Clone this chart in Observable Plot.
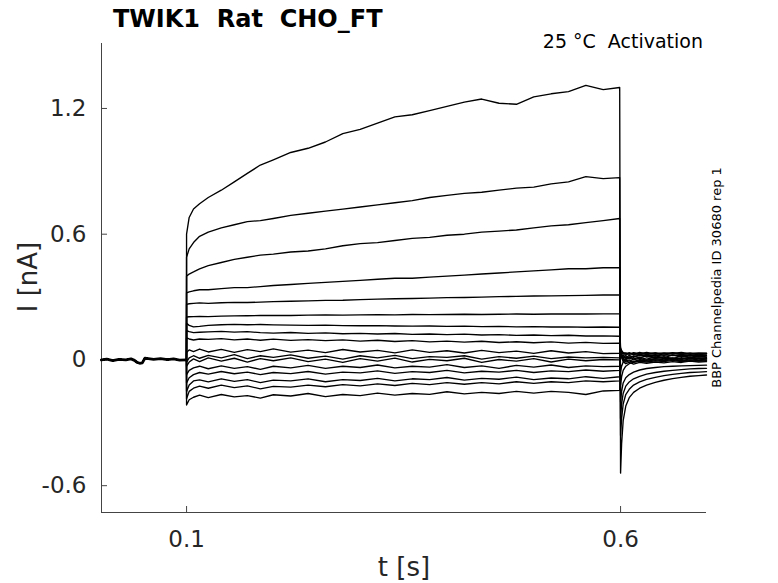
<!DOCTYPE html>
<html>
<head>
<meta charset="utf-8">
<script src="https://cdn.jsdelivr.net/npm/d3@7"></script>
<script src="https://cdn.jsdelivr.net/npm/@observablehq/plot@0.6"></script>
<style>
  html, body { margin: 0; padding: 0; background: #fff; }
  #chart { width: 778px; height: 583px; }
</style>
</head>
<body>
<div id="chart"></div>
<script>
// ---- data ----
const xTicks = [0.1, 0.6];
const yTicks = [-0.6, 0, 0.6, 1.2];

// shared pre-pulse holding segment
const preT = [0.002, 0.008, 0.015, 0.022, 0.03, 0.036, 0.04, 0.043, 0.046, 0.049, 0.052, 0.056, 0.062, 0.07, 0.078, 0.085, 0.092, 0.0999];
const preI = [0.0, 0.004, -0.003, 0.003, 0.0, 0.005, -0.002, -0.012, -0.016, -0.014, 0.008, 0.006, 0.003, 0.006, 0.002, 0.005, -0.001, 0.0];

// test pulse time grid
const pulseT = [0.1, 0.103, 0.108, 0.115, 0.125, 0.14, 0.155, 0.17, 0.185, 0.2, 0.22, 0.24, 0.26, 0.28, 0.3, 0.32, 0.34, 0.36, 0.38, 0.4, 0.42, 0.44, 0.46, 0.48, 0.5, 0.52, 0.54, 0.56, 0.58, 0.599];
// tail time grid
const tailT = [0.6, 0.6012, 0.603, 0.606, 0.61, 0.615, 0.622, 0.63, 0.64, 0.65, 0.66, 0.67, 0.68, 0.69, 0.699];

const pulse1 = [0.60, 0.68, 0.72, 0.745, 0.775, 0.81, 0.85, 0.89, 0.93, 0.955, 0.99, 1.01, 1.04, 1.08, 1.10, 1.13, 1.16, 1.17, 1.19, 1.21, 1.23, 1.245, 1.225, 1.22, 1.255, 1.27, 1.28, 1.31, 1.29, 1.30];
const tail1  = [-0.54, -0.40, -0.29, -0.22, -0.18, -0.155, -0.135, -0.12, -0.107, -0.097, -0.089, -0.083, -0.078, -0.075, -0.072];
const pulse2 = [0.49, 0.53, 0.56, 0.59, 0.61, 0.63, 0.645, 0.66, 0.665, 0.675, 0.69, 0.7, 0.71, 0.72, 0.73, 0.74, 0.75, 0.76, 0.775, 0.785, 0.795, 0.80, 0.81, 0.82, 0.825, 0.84, 0.85, 0.875, 0.865, 0.87];
const tail2  = [-0.36, -0.28, -0.21, -0.165, -0.14, -0.12, -0.105, -0.093, -0.083, -0.075, -0.069, -0.064, -0.06, -0.058, -0.056];
const pulse3 = [0.40, 0.41, 0.42, 0.435, 0.45, 0.465, 0.48, 0.49, 0.50, 0.505, 0.515, 0.52, 0.53, 0.545, 0.555, 0.56, 0.57, 0.58, 0.585, 0.595, 0.60, 0.61, 0.615, 0.62, 0.63, 0.64, 0.645, 0.655, 0.665, 0.675];
const tail3  = [-0.28, -0.21, -0.16, -0.125, -0.105, -0.09, -0.078, -0.068, -0.06, -0.054, -0.05, -0.046, -0.043, -0.041, -0.04];
const pulse4 = [0.32, 0.325, 0.33, 0.335, 0.335, 0.34, 0.345, 0.345, 0.35, 0.355, 0.36, 0.365, 0.37, 0.375, 0.38, 0.385, 0.39, 0.39, 0.395, 0.40, 0.405, 0.41, 0.415, 0.42, 0.425, 0.43, 0.435, 0.435, 0.44, 0.44];
const tail4  = [-0.20, -0.15, -0.11, -0.085, -0.07, -0.058, -0.048, -0.041, -0.036, -0.032, -0.03, -0.028, -0.027, -0.026, -0.025];
const pulse5 = [0.265, 0.268, 0.27, 0.272, 0.27, 0.273, 0.275, 0.274, 0.276, 0.278, 0.28, 0.282, 0.284, 0.285, 0.288, 0.29, 0.292, 0.293, 0.295, 0.297, 0.298, 0.30, 0.302, 0.303, 0.305, 0.306, 0.307, 0.308, 0.31, 0.31];
const tail5  = [-0.12, -0.08, -0.05, -0.03, -0.018, -0.01, -0.004, 0.0, 0.004, 0.005, 0.007, 0.006, 0.008, 0.007, 0.008];
const pulse6 = [0.205, 0.206, 0.207, 0.208, 0.207, 0.209, 0.21, 0.211, 0.212, 0.213, 0.212, 0.214, 0.215, 0.214, 0.215, 0.216, 0.215, 0.217, 0.216, 0.217, 0.218, 0.217, 0.218, 0.219, 0.218, 0.219, 0.22, 0.219, 0.22, 0.22];
const tail6  = [-0.06, -0.03, -0.01, 0.005, 0.012, 0.018, 0.02, 0.022, 0.02, 0.024, 0.021, 0.023, 0.02, 0.022, 0.021];
const pulse7 = [0.175, 0.165, 0.158, 0.16, 0.165, 0.168, 0.17, 0.168, 0.169, 0.167, 0.166, 0.165, 0.166, 0.164, 0.163, 0.164, 0.162, 0.161, 0.162, 0.16, 0.161, 0.159, 0.16, 0.158, 0.159, 0.157, 0.158, 0.156, 0.157, 0.156];
const tail7  = [0.06, 0.045, 0.035, 0.03, 0.028, 0.03, 0.026, 0.03, 0.027, 0.031, 0.028, 0.03, 0.027, 0.029, 0.028];
const pulse8 = [0.14, 0.135, 0.13, 0.132, 0.134, 0.136, 0.133, 0.135, 0.13, 0.128, 0.131, 0.127, 0.129, 0.125, 0.127, 0.124, 0.126, 0.122, 0.124, 0.121, 0.123, 0.119, 0.121, 0.117, 0.119, 0.116, 0.118, 0.114, 0.115, 0.113];
const tail8  = [0.05, 0.04, 0.032, 0.03, 0.033, 0.028, 0.032, 0.029, 0.034, 0.03, 0.033, 0.029, 0.032, 0.03, 0.031];
const pulse9 = [0.105, 0.1, 0.095, 0.1, 0.098, 0.102, 0.096, 0.1, 0.094, 0.099, 0.093, 0.097, 0.092, 0.096, 0.09, 0.094, 0.088, 0.092, 0.086, 0.09, 0.085, 0.089, 0.083, 0.087, 0.082, 0.086, 0.08, 0.084, 0.079, 0.08];
const tail9  = [0.045, 0.038, 0.03, 0.034, 0.028, 0.035, 0.03, 0.036, 0.029, 0.034, 0.031, 0.036, 0.03, 0.034, 0.032];
const pulse10 = [0.035, 0.048, 0.04, 0.052, 0.038, 0.05, 0.036, 0.049, 0.04, 0.053, 0.037, 0.047, 0.035, 0.05, 0.038, 0.046, 0.034, 0.048, 0.036, 0.044, 0.033, 0.046, 0.035, 0.042, 0.031, 0.044, 0.033, 0.04, 0.03, 0.032];
const tail10  = [0.04, 0.025, 0.035, 0.022, 0.034, 0.024, 0.036, 0.026, 0.033, 0.022, 0.035, 0.025, 0.032, 0.024, 0.03];
const pulse11 = [-0.01, 0.01, 0.02, 0.008, 0.022, 0.01, 0.025, 0.006, 0.02, 0.012, 0.024, 0.008, 0.018, 0.004, 0.02, 0.01, 0.022, 0.006, 0.016, 0.012, 0.02, 0.004, 0.016, 0.008, 0.018, 0.006, 0.014, 0.01, 0.012, 0.01];
const tail11  = [0.03, 0.015, 0.025, 0.01, 0.022, 0.012, 0.026, 0.014, 0.02, 0.01, 0.024, 0.012, 0.02, 0.014, 0.018];
const pulse12 = [-0.03, -0.01, 0.005, -0.008, 0.01, -0.006, 0.008, -0.01, 0.006, -0.004, 0.01, -0.008, 0.004, -0.012, 0.006, -0.006, 0.009, -0.01, 0.003, -0.004, 0.008, -0.012, 0.002, -0.006, 0.006, -0.01, 0.004, -0.004, 0.002, 0.0];
const tail12  = [0.035, 0.02, 0.012, 0.02, 0.008, 0.018, 0.01, 0.02, 0.008, 0.016, 0.006, 0.018, 0.01, 0.015, 0.012];
const pulse13 = [-0.07, -0.05, -0.038, -0.03, -0.042, -0.028, -0.04, -0.032, -0.045, -0.03, -0.038, -0.026, -0.04, -0.03, -0.036, -0.024, -0.038, -0.03, -0.034, -0.022, -0.036, -0.028, -0.04, -0.026, -0.034, -0.024, -0.036, -0.028, -0.032, -0.03];
const tail13  = [0.04, 0.025, 0.015, 0.008, 0.015, 0.005, 0.012, 0.004, 0.014, 0.006, 0.01, 0.002, 0.012, 0.005, 0.008];
const pulse14 = [-0.11, -0.085, -0.07, -0.06, -0.068, -0.055, -0.066, -0.058, -0.07, -0.06, -0.065, -0.055, -0.068, -0.058, -0.062, -0.052, -0.064, -0.056, -0.06, -0.05, -0.062, -0.054, -0.058, -0.05, -0.06, -0.052, -0.056, -0.048, -0.054, -0.05];
const tail14  = [0.045, 0.02, 0.008, 0.002, 0.01, 0.0, 0.008, -0.002, 0.006, 0.0, 0.007, -0.003, 0.005, 0.0, 0.004];
const pulse15 = [-0.15, -0.12, -0.1, -0.095, -0.105, -0.09, -0.102, -0.094, -0.108, -0.096, -0.1, -0.09, -0.104, -0.094, -0.098, -0.088, -0.1, -0.09, -0.094, -0.084, -0.096, -0.088, -0.092, -0.082, -0.094, -0.086, -0.09, -0.08, -0.088, -0.08];
const tail15  = [0.05, 0.02, 0.005, -0.005, 0.0, -0.008, 0.002, -0.006, 0.0, -0.004, 0.002, -0.006, 0.0, -0.003, 0.0];
const pulse16 = [-0.185, -0.15, -0.135, -0.125, -0.135, -0.12, -0.132, -0.124, -0.138, -0.126, -0.13, -0.12, -0.128, -0.118, -0.124, -0.114, -0.122, -0.112, -0.118, -0.108, -0.116, -0.108, -0.114, -0.104, -0.112, -0.104, -0.108, -0.1, -0.104, -0.1];
const tail16  = [0.05, 0.015, 0.0, -0.01, -0.004, -0.012, -0.005, -0.01, -0.004, -0.008, -0.002, -0.008, -0.003, -0.006, -0.004];
const pulse17 = [-0.215, -0.19, -0.178, -0.168, -0.18, -0.165, -0.176, -0.17, -0.182, -0.166, -0.172, -0.16, -0.175, -0.165, -0.17, -0.158, -0.168, -0.16, -0.164, -0.152, -0.162, -0.155, -0.16, -0.15, -0.158, -0.15, -0.155, -0.165, -0.148, -0.145];
const tail17  = [0.05, 0.01, -0.008, -0.018, -0.012, -0.02, -0.012, -0.016, -0.01, -0.014, -0.008, -0.012, -0.006, -0.01, -0.008];

const pulses = [pulse1, pulse2, pulse3, pulse4, pulse5, pulse6, pulse7, pulse8, pulse9, pulse10, pulse11, pulse12, pulse13, pulse14, pulse15, pulse16, pulse17];
const tails  = [tail1, tail2, tail3, tail4, tail5, tail6, tail7, tail8, tail9, tail10, tail11, tail12, tail13, tail14, tail15, tail16, tail17];

// ---- build table ----
const rows = [];
pulses.forEach((p, k) => {
  preT.forEach((t, j) => rows.push({trace: k, t, i: preI[j]}));
  pulseT.forEach((t, j) => rows.push({trace: k, t, i: p[j]}));
  tailT.forEach((t, j) => rows.push({trace: k, t, i: tails[k][j]}));
});
const baseRows = preT.map((t, j) => ({t, i: preI[j]}));

const xDomain = [0.002, 0.699];
const yDomain = [-0.728, 1.51];
const FONT = "DejaVu Sans";

const chart = Plot.plot({
  width: 778,
  height: 583,
  marginLeft: 101,
  marginRight: 72,
  marginTop: 43,
  marginBottom: 71,
  style: {fontFamily: FONT, background: "#fff", color: "#262626"},
  x: {domain: xDomain},
  y: {domain: yDomain},
  marks: [
    Plot.ruleX([xDomain[0]], {stroke: "#444", strokeWidth: 1}),
    Plot.ruleY([yDomain[0]], {stroke: "#444", strokeWidth: 1}),
    Plot.axisX({ticks: xTicks, tickSize: -6, tickPadding: 24, fontSize: 23, tickFormat: d => String(d), label: null, stroke: "#444"}),
    Plot.axisY({ticks: yTicks, tickSize: -6, tickPadding: 21, fontSize: 23, tickFormat: d => String(d), label: null, stroke: "#444"}),
    Plot.line(baseRows, {x: "t", y: "i", stroke: "black", strokeWidth: 2.8}),
    Plot.line(rows, {x: "t", y: "i", z: "trace", stroke: "black", strokeWidth: 1.35})
  ]
});
document.getElementById("chart").appendChild(chart);

const svg = d3.select(chart);
svg.append("text").attr("x", 113).attr("y", 27).attr("text-anchor", "start")
  .attr("font-family", FONT).attr("font-size", 24).attr("font-weight", "bold")
  .attr("fill", "#000").style("white-space", "pre").text("TWIK1  Rat  CHO_FT");
svg.append("text").attr("x", 703).attr("y", 47.5).attr("text-anchor", "end")
  .attr("font-family", FONT).attr("font-size", 19).attr("fill", "#000")
  .style("white-space", "pre").text("25 °C  Activation");
svg.append("text").attr("transform", "translate(721,277.5) rotate(-90)").attr("text-anchor", "middle")
  .attr("font-family", FONT).attr("font-size", 13).attr("fill", "#000")
  .text("BBP Channelpedia ID 30680 rep 1");
svg.append("text").attr("transform", "translate(37,277) rotate(-90)").attr("text-anchor", "middle")
  .attr("font-family", FONT).attr("font-size", 26).attr("fill", "#262626")
  .text("I [nA]");
svg.append("text").attr("x", 404).attr("y", 576).attr("text-anchor", "middle")
  .attr("font-family", FONT).attr("font-size", 26).attr("fill", "#262626")
  .text("t [s]");
</script>
</body>
</html>
